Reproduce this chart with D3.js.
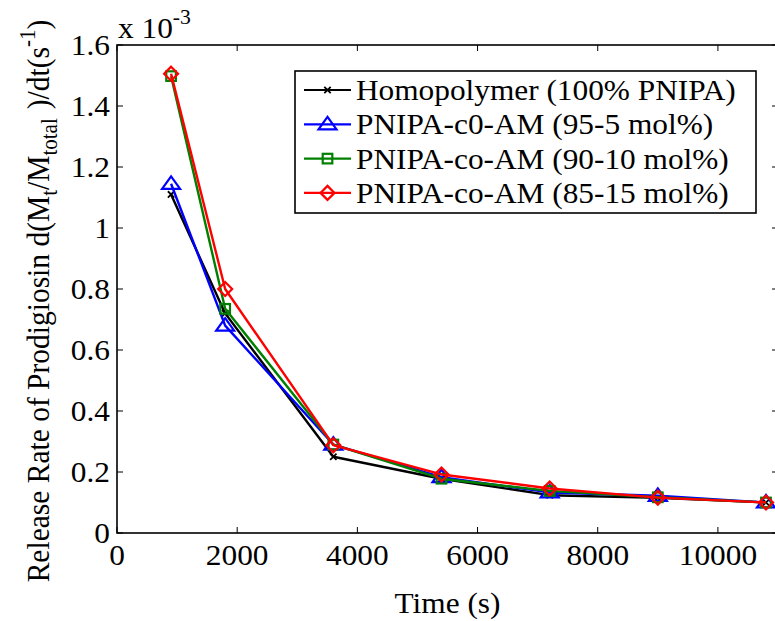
<!DOCTYPE html>
<html>
<head>
<meta charset="utf-8">
<script src="https://cdn.jsdelivr.net/npm/d3@7"></script>
<style>
  html, body { margin: 0; padding: 0; background: #fff; }
  svg { display: block; }
  text { font-family: "Liberation Serif", "Times New Roman", serif; fill: #000; }
</style>
</head>
<body>
<div id="chart"></div>
<script>
// ---- Data (release rate values are in units of 10^-3 s^-1) ----
const times = [900, 1800, 3600, 5400, 7200, 9000, 10800];
const homopolymer = [1.11, 0.72, 0.25, 0.178, 0.124, 0.115, 0.10];
const pnipaAm95 = [1.145, 0.68, 0.29, 0.183, 0.133, 0.122, 0.10];
const pnipaAm90 = [1.498, 0.735, 0.29, 0.178, 0.138, 0.117, 0.10];
const pnipaAm85 = [1.506, 0.80, 0.288, 0.192, 0.146, 0.116, 0.10];
const seriesNames = [
  "Homopolymer (100% PNIPA)",
  "PNIPA-c0-AM (95-5 mol%)",
  "PNIPA-co-AM (90-10 mol%)",
  "PNIPA-co-AM (85-15 mol%)"
];
const seriesColors = ["#000000", "#0000ff", "#008000", "#ff0000"];
const seriesMarkers = ["x", "triangle", "square", "diamond"];
const xTicks = [0, 2000, 4000, 6000, 8000, 10000];
const yTicks = [0, 0.2, 0.4, 0.6, 0.8, 1.0, 1.2, 1.4, 1.6];
const yTickLabels = ["0", "0.2", "0.4", "0.6", "0.8", "1", "1.2", "1.4", "1.6"];

const seriesValues = [homopolymer, pnipaAm95, pnipaAm90, pnipaAm85];

// ---- Layout ----
const W = 775, H = 621;
const plot = { left: 117, top: 45, right: 778, bottom: 533 };
const FS = 29;       // base font size
const SX = 1.08;     // horizontal stretch of text (matches the stretched original)

const svg = d3.select("#chart").append("svg").attr("width", W).attr("height", H);

const x = d3.scaleLinear().domain([0, 11000]).range([plot.left, plot.right]);
const y = d3.scaleLinear().domain([0, 1.6]).range([plot.bottom, plot.top]);

function stretchedText(g, px, py, str, anchor, size) {
  return g.append("text")
    .attr("transform", `translate(${px},${py}) scale(${SX},1)`)
    .attr("text-anchor", anchor)
    .style("font-size", (size || FS) + "px")
    .text(str);
}

// ---- Axes box ----
const axisG = svg.append("g");
axisG.append("rect")
  .attr("x", plot.left).attr("y", plot.top)
  .attr("width", plot.right - plot.left).attr("height", plot.bottom - plot.top)
  .attr("fill", "none").attr("stroke", "#000").attr("stroke-width", 1.6);

const TL = 6;
// x ticks (bottom & top, inward)
xTicks.forEach(v => {
  axisG.append("line").attr("x1", x(v)).attr("x2", x(v))
    .attr("y1", plot.bottom).attr("y2", plot.bottom - TL)
    .attr("stroke", "#000").attr("stroke-width", 1);
  axisG.append("line").attr("x1", x(v)).attr("x2", x(v))
    .attr("y1", plot.top).attr("y2", plot.top + TL)
    .attr("stroke", "#000").attr("stroke-width", 1);
  stretchedText(axisG, x(v), plot.bottom + 32, String(v), "middle");
});
// y ticks (left & right, inward)
yTicks.forEach((v, i) => {
  axisG.append("line").attr("x1", plot.left).attr("x2", plot.left + TL)
    .attr("y1", y(v)).attr("y2", y(v))
    .attr("stroke", "#000").attr("stroke-width", 1);
  axisG.append("line").attr("x1", plot.right).attr("x2", plot.right - TL)
    .attr("y1", y(v)).attr("y2", y(v))
    .attr("stroke", "#000").attr("stroke-width", 1);
  stretchedText(axisG, plot.left - 7, y(v) + 10, yTickLabels[i], "end");
});

// exponent label "x 10^-3"
const expT = svg.append("text")
  .attr("transform", `translate(${plot.left + 1},${plot.top - 7}) scale(${SX},1)`)
  .style("font-size", FS + "px");
expT.append("tspan").text("x 10");
expT.append("tspan").attr("dy", -14).style("font-size", "20px").text("-3");

// x label
stretchedText(svg, (plot.left + plot.right) / 2, 613, "Time (s)", "middle");

// y label (rotated; stretch applies across the glyph height)
const yl = svg.append("text")
  .attr("transform", `translate(49,301) rotate(-90) scale(1,${SX})`)
  .attr("text-anchor", "middle")
  .style("font-size", "29.5px");
yl.append("tspan").text("Release Rate of Prodigiosin d(M");
yl.append("tspan").attr("dy", 7).style("font-size", "21px").text("t");
yl.append("tspan").attr("dy", -7).text("/M");
yl.append("tspan").attr("dy", 7).style("font-size", "21px").text("total");
yl.append("tspan").attr("dy", -7).attr("dx", 9).text(")/dt(s");
yl.append("tspan").attr("dy", -13).style("font-size", "21px").text("-1");
yl.append("tspan").attr("dy", 13).text(")");

// ---- Markers ----
function drawMarker(g, type, cx, cy, color) {
  if (type === "x") {
    const s = 3.2;
    g.append("path").attr("d", `M${cx - s},${cy - s}L${cx + s},${cy + s}M${cx - s},${cy + s}L${cx + s},${cy - s}`)
      .attr("stroke", color).attr("stroke-width", 1.8).attr("fill", "none");
  } else if (type === "triangle") {
    const w = 9, hTop = 7.5, hBot = 5;
    g.append("path").attr("d", `M${cx},${cy - hTop}L${cx + w},${cy + hBot}L${cx - w},${cy + hBot}Z`)
      .attr("stroke", color).attr("stroke-width", 2.2).attr("fill", "none");
  } else if (type === "square") {
    const s = 4.8;
    g.append("rect").attr("x", cx - s).attr("y", cy - s).attr("width", 2 * s).attr("height", 2 * s)
      .attr("stroke", color).attr("stroke-width", 2.2).attr("fill", "none");
  } else if (type === "diamond") {
    const s = 7;
    g.append("path").attr("d", `M${cx},${cy - s}L${cx + s},${cy}L${cx},${cy + s}L${cx - s},${cy}Z`)
      .attr("stroke", color).attr("stroke-width", 2.2).attr("fill", "none");
  }
}

// ---- Series ----
const line = d3.line().x(d => x(d[0])).y(d => y(d[1]));
const seriesG = svg.append("g");
seriesValues.forEach((vals, si) => {
  const pts = times.map((t, i) => [t, vals[i]]);
  seriesG.append("path").datum(pts).attr("d", line)
    .attr("fill", "none").attr("stroke", seriesColors[si]).attr("stroke-width", 2.4)
    .attr("stroke-linejoin", "round");
  pts.forEach(p => drawMarker(seriesG, seriesMarkers[si], x(p[0]), y(p[1]), seriesColors[si]));
});

// ---- Legend ----
const lg = svg.append("g");
const lgBox = { x: 295, y: 71, w: 461, h: 142 };
lg.append("rect").attr("x", lgBox.x).attr("y", lgBox.y).attr("width", lgBox.w).attr("height", lgBox.h)
  .attr("fill", "#fff").attr("stroke", "#000").attr("stroke-width", 1.6);
seriesNames.forEach((name, si) => {
  const cy = lgBox.y + 19 + si * 34.3;
  lg.append("line").attr("x1", 304).attr("x2", 351).attr("y1", cy).attr("y2", cy)
    .attr("stroke", seriesColors[si]).attr("stroke-width", 2.2);
  drawMarker(lg, seriesMarkers[si], 327.5, cy, seriesColors[si]);
  stretchedText(lg, 356, cy + 10, name, "start");
});
</script>
</body>
</html>
